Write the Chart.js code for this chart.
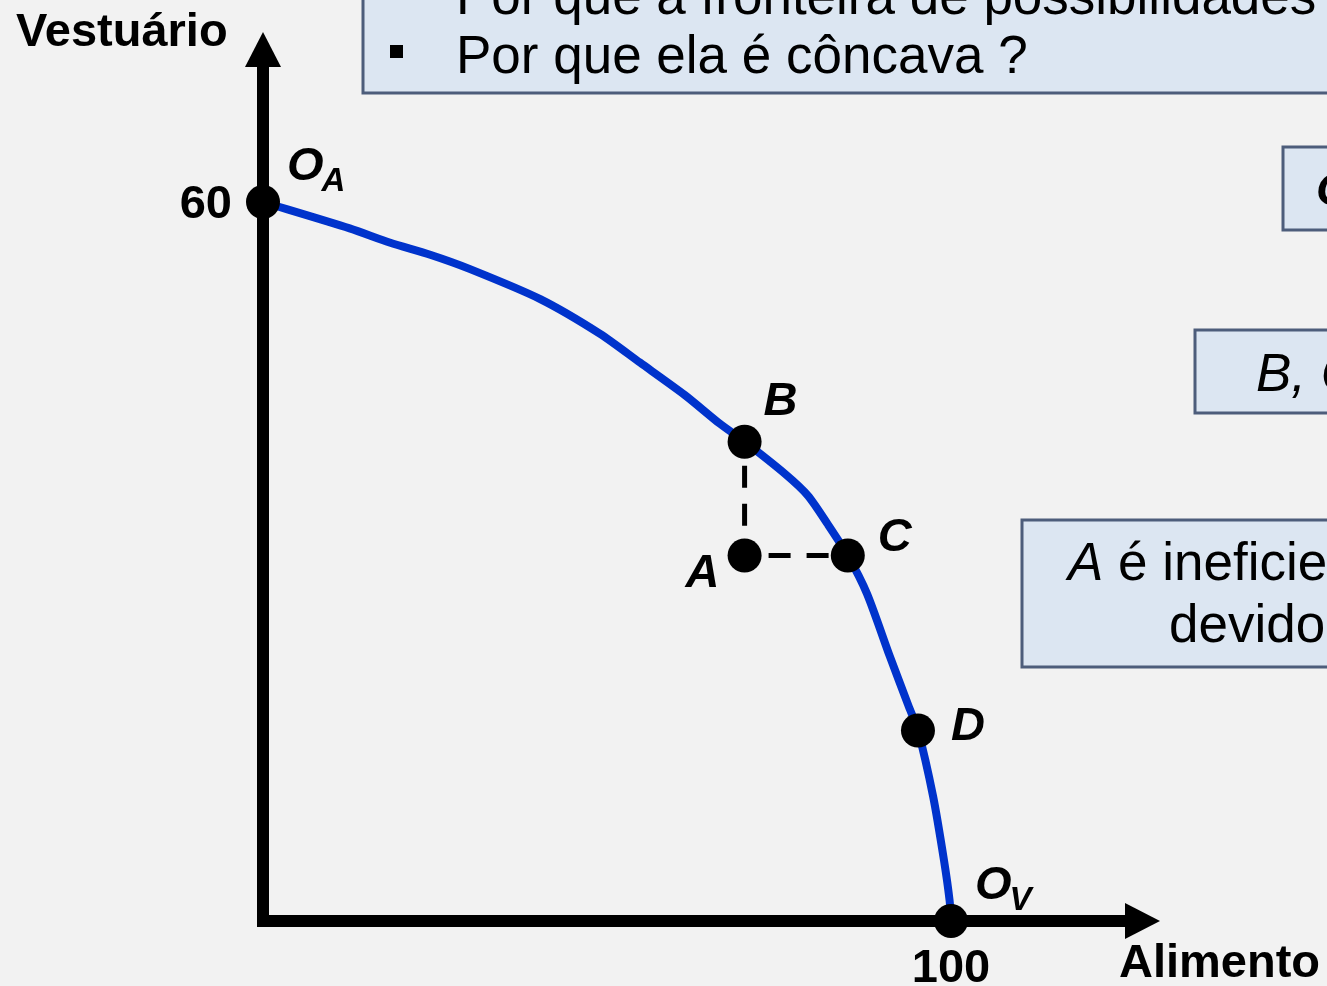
<!DOCTYPE html>
<html>
<head>
<meta charset="utf-8">
<script src="https://cdn.jsdelivr.net/npm/chart.js@4"></script>
<style>
html,body{margin:0;padding:0;background:#f2f2f2;overflow:hidden;}
canvas{display:block;}
</style>
</head>
<body>
<canvas id="c" width="1327" height="986"></canvas>
<script>
// ---- data ----
const frontierX = [0, 12.6, 18.5, 24.3, 30.1, 40.3, 49, 54.8, 61.3, 66.4, 70, 75.9, 79.2, 82.1, 85, 87.8, 91.1, 93.8, 95.2, 97.4, 99, 99.8, 100];
const frontierY = [60, 57.8, 56.6, 55.6, 54.4, 51.9, 49, 46.6, 43.9, 41.5, 40, 37.3, 35.5, 33.1, 30.5, 27.3, 22.1, 18, 15.9, 10.4, 5, 1.7, 0];
const pointNames = ['O', 'B', 'C', 'D', 'O', 'A'];
const pointSubs  = ['A', '', '', '', 'V', ''];
const pointX = [0, 70, 85, 95.2, 100, 70];
const pointY = [60, 40, 30.5, 15.9, 0, 30.5];
const xTicks = [100];
const yTicks = [60];
const xTitle = 'Alimento';
const yTitle = 'Vestuário';

const frontier = frontierX.map((x, i) => ({x, y: frontierY[i]}));
const pts = pointX.map((x, i) => ({x, y: pointY[i]}));
const iA = 5, iB = 1, iC = 2;

// label offsets (pixels) relative to each point
const labelOff = [[24, -22], [19, -27], [30, -5], [33, 10], [24, -22], [-59, 31]];

const bgPlugin = {
  id: 'bg',
  beforeDraw(chart) {
    const ctx = chart.ctx;
    ctx.save();
    ctx.fillStyle = '#f2f2f2';
    ctx.fillRect(0, 0, chart.width, chart.height);
    ctx.restore();
  }
};

const axesPlugin = {
  id: 'axes',
  beforeDatasetsDraw(chart) {
    const ctx = chart.ctx;
    const xs = chart.scales.x, ys = chart.scales.y;
    const x0 = xs.getPixelForValue(0), y0 = ys.getPixelForValue(0);
    const ca = chart.chartArea;
    ctx.save();
    ctx.strokeStyle = '#000';
    ctx.fillStyle = '#000';
    ctx.lineWidth = 12;
    ctx.lineCap = 'butt';
    ctx.beginPath();
    ctx.moveTo(x0, y0 + 6);
    ctx.lineTo(x0, ca.top + 34);
    ctx.moveTo(x0 - 6, y0);
    ctx.lineTo(ca.right - 34, y0);
    ctx.stroke();
    // arrowheads
    ctx.beginPath();
    ctx.moveTo(x0, ca.top);
    ctx.lineTo(x0 - 18, ca.top + 35);
    ctx.lineTo(x0 + 18, ca.top + 35);
    ctx.closePath();
    ctx.fill();
    ctx.beginPath();
    ctx.moveTo(ca.right, y0);
    ctx.lineTo(ca.right - 35, y0 - 18);
    ctx.lineTo(ca.right - 35, y0 + 18);
    ctx.closePath();
    ctx.fill();
    ctx.restore();
  },
  afterDraw(chart) {
    const ctx = chart.ctx;
    const xs = chart.scales.x, ys = chart.scales.y;
    const x0 = xs.getPixelForValue(0), y0 = ys.getPixelForValue(0);
    ctx.save();
    ctx.fillStyle = '#000';
    ctx.textBaseline = 'alphabetic';
    ctx.font = 'bold 47px "Liberation Sans", Arial, sans-serif';
    // tick labels
    ctx.textAlign = 'right';
    yTicks.forEach(v => ctx.fillText(String(v), x0 - 31, ys.getPixelForValue(v) + 16));
    ctx.textAlign = 'center';
    xTicks.forEach(v => ctx.fillText(String(v), xs.getPixelForValue(v), y0 + 61));
    // axis titles
    ctx.textAlign = 'left';
    ctx.fillText(yTitle, 16, 46);
    ctx.fillText(xTitle, 1119, 977);
    // point labels
    pts.forEach((p, i) => {
      const px = xs.getPixelForValue(p.x), py = ys.getPixelForValue(p.y);
      const lx = px + labelOff[i][0], ly = py + labelOff[i][1];
      ctx.font = 'italic bold 47px "Liberation Sans", Arial, sans-serif';
      ctx.textAlign = 'left';
      ctx.fillText(pointNames[i], lx, ly);
      if (pointSubs[i]) {
        const w = ctx.measureText(pointNames[i]).width;
        ctx.font = 'italic bold 33px "Liberation Sans", Arial, sans-serif';
        ctx.fillText(pointSubs[i], lx + w - 2, ly + 11);
      }
    });

    // text boxes
    const box = (x, y, w, h) => {
      ctx.fillStyle = '#dce6f2';
      ctx.fillRect(x, y, w, h);
      ctx.strokeStyle = '#4d5d7b';
      ctx.lineWidth = 3;
      ctx.strokeRect(x, y, w, h);
      ctx.fillStyle = '#000';
    };
    const reg = '53px "Liberation Sans", Arial, sans-serif';
    const ital = 'italic 53px "Liberation Sans", Arial, sans-serif';
    box(363, -20, 1100, 113);
    ctx.font = reg;
    ctx.textAlign = 'left';
    ctx.fillText('Por que a fronteira de possibilidades de produção é negativamente inclinada ?', 456, 14);
    ctx.fillText('Por que ela é côncava ?', 456, 73);
    ctx.fillRect(390, 45, 13, 13);

    box(1283, 147, 400, 83);
    ctx.font = 'italic bold 47px "Liberation Sans", Arial, sans-serif';
    ctx.fillText('O', 1316, 205);

    box(1195, 330, 400, 83);
    ctx.font = ital;
    ctx.fillText('B, C', 1256, 391);
    box(1022, 520, 500, 147);
    ctx.font = ital;
    ctx.fillText('A', 1068, 580);
    const wA = ctx.measureText('A ').width;
    ctx.font = reg;
    ctx.fillText('é ineficiente', 1068 + wA, 580);
    ctx.fillText('devido à distribuição', 1169, 642);
    ctx.restore();
  }
};

new Chart(document.getElementById('c'), {
  type: 'scatter',
  data: {
    datasets: [
      {
        data: [pts[iB], pts[iA]],
        showLine: true, borderColor: '#000', borderWidth: 5,
        borderDash: [22, 16], borderDashOffset: 14, pointRadius: 0, order: 3, clip: false
      },
      {
        data: [pts[iA], pts[iC]],
        showLine: true, borderColor: '#000', borderWidth: 5,
        borderDash: [22, 16], borderDashOffset: 14, pointRadius: 0, order: 3, clip: false
      },
      {
        data: frontier,
        showLine: true, borderColor: '#0033cc', borderWidth: 8,
        tension: 0.25, pointRadius: 0, order: 2, clip: false
      },
      {
        data: pts,
        showLine: false, backgroundColor: '#000', borderColor: '#000',
        pointRadius: 17, pointHoverRadius: 17, borderWidth: 0, order: 1, clip: false
      }
    ]
  },
  options: {
    responsive: false,
    animation: false,
    events: [],
    layout: { padding: { left: 263, right: 167, top: 32, bottom: 65 } },
    plugins: { legend: { display: false }, tooltip: { enabled: false } },
    scales: {
      x: { type: 'linear', display: false, min: 0, max: 130.38 },
      y: { type: 'linear', display: false, min: 0, max: 74.19 }
    }
  },
  plugins: [bgPlugin, axesPlugin]
});
</script>
</body>
</html>
